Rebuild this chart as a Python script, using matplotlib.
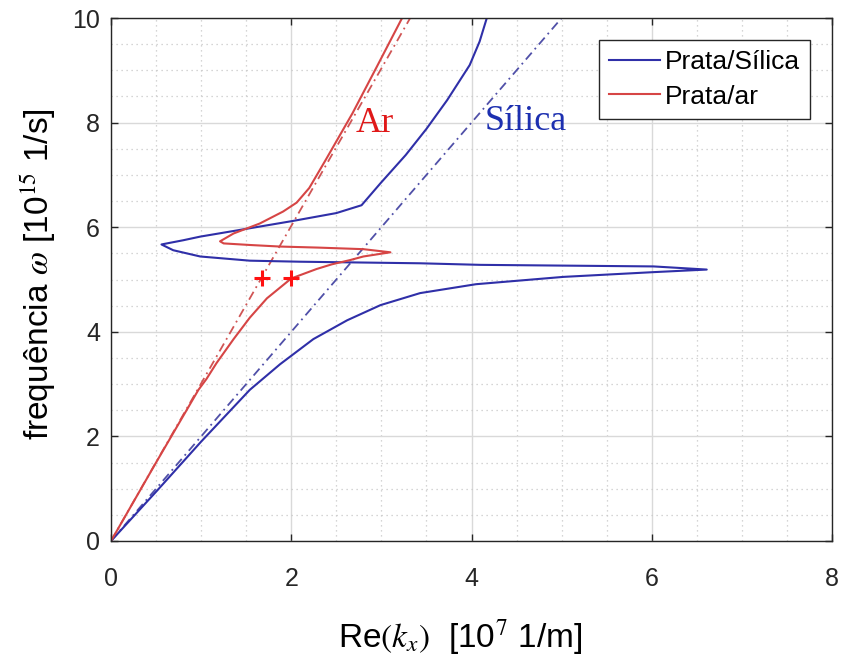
import matplotlib
matplotlib.use("Agg")
import matplotlib.pyplot as plt
from matplotlib.ticker import MultipleLocator

plt.rcParams["font.family"] = ["Liberation Sans", "DejaVu Sans"]
plt.rcParams["mathtext.fontset"] = "stix"

# Dispersion of the surface plasmon: Re(kx) [1e7 1/m] vs omega [1e15 1/s]
kx_silica = [0, 0.52, 1.00, 1.54, 1.876, 2.245, 2.62, 2.99, 3.43, 4.05, 5.02,
             6.01, 6.61, 6.02, 4.10, 3.43, 2.10, 1.54, 0.99, 0.69, 0.56, 0.80,
             0.99, 1.54, 2.02, 2.50, 2.78, 2.86, 2.99, 3.27, 3.50, 3.73, 3.98,
             4.09, 4.17]
w_silica = [0, 0.98, 1.90, 2.89, 3.38, 3.86, 4.22, 4.51, 4.74, 4.91, 5.05,
            5.14, 5.19, 5.25, 5.28, 5.31, 5.34, 5.36, 5.44, 5.56, 5.67, 5.75,
            5.82, 5.98, 6.12, 6.27, 6.42, 6.58, 6.84, 7.38, 7.88, 8.43, 9.10,
            9.55, 10.0]

kx_ar = [0, 0.50, 0.97, 1.06, 1.17, 1.36, 1.54, 1.73, 2.00, 2.28, 2.45, 2.65,
         2.80, 3.10, 2.80, 2.30, 1.876, 1.54, 1.25, 1.21, 1.36, 1.65, 1.91,
         2.06, 2.20, 2.38, 2.68, 2.95, 3.23]
w_ar = [0, 1.50, 2.89, 3.10, 3.40, 3.86, 4.27, 4.64, 5.02, 5.20, 5.29, 5.37,
        5.44, 5.52, 5.58, 5.61, 5.63, 5.66, 5.69, 5.73, 5.88, 6.07, 6.30,
        6.47, 6.75, 7.28, 8.18, 9.07, 10.0]

# Light lines in each dielectric
light_ar_kx = [0, 3.32]
light_ar_w = [0, 10]
light_silica_kx = [0, 5.0]
light_silica_w = [0, 10]

# Highlighted points
mark_kx = [1.67, 2.0]
mark_w = [5.03, 5.03]

blue = "#2f2fa8"
red = "#d64545"

fig = plt.figure(figsize=(8.42, 6.57), dpi=100)
ax = fig.add_axes([111 / 842, 116 / 657, 721 / 842, 523 / 657])

dashdot = (0, (5, 2.5, 1, 2.5))
ax.plot(light_silica_kx, light_silica_w, color="#5050a8", lw=1.3, linestyle=dashdot)
ax.plot(light_ar_kx, light_ar_w, color="#d05555", lw=1.3, linestyle=dashdot)
ax.plot(kx_silica, w_silica, color=blue, lw=1.5, label="Prata/Sílica")
ax.plot(kx_ar, w_ar, color=red, lw=1.5, label="Prata/ar")
ax.plot(mark_kx, mark_w, linestyle="none", marker="+", color="#ff1010",
        markersize=11, markeredgewidth=2.2)

ax.text(2.93, 7.99, "Ar", color="#e01818", family="Liberation Serif",
        fontsize=26, ha="center", va="center")
ax.text(4.15, 8.03, "Sílica", color="#1c2fb0", family="Liberation Serif",
        fontsize=26, ha="left", va="center")

ax.set_xlim(0, 8)
ax.set_ylim(0, 10)
ax.xaxis.set_major_locator(MultipleLocator(2))
ax.yaxis.set_major_locator(MultipleLocator(2))
ax.xaxis.set_minor_locator(MultipleLocator(0.5))
ax.yaxis.set_minor_locator(MultipleLocator(0.5))

ax.grid(which="major", color="#d9d9d9", lw=1.0, linestyle="-")
ax.grid(which="minor", color="#c8c8c8", lw=0.9, linestyle=(0, (1, 3)))
ax.set_axisbelow(True)

ax.tick_params(which="major", direction="in", length=5, width=1.0,
               top=True, right=True, labelsize=18, colors="#262626")
ax.tick_params(axis="x", which="major", pad=19)
ax.tick_params(axis="y", which="major", pad=8)
ax.tick_params(which="minor", length=0, top=True, right=True)
for s in ax.spines.values():
    s.set_color("#262626")
    s.set_linewidth(1.0)

ax.set_ylabel("frequência $\\omega$ [10$^{15}$ 1/s]", fontsize=24)
ax.yaxis.set_label_coords(-0.072, 0.51)
ax.set_xlabel("Re$(k_x)$  [10$^7$ 1/m]", fontsize=24)
ax.xaxis.set_label_coords(0.484, -0.146)

leg = ax.legend(loc="upper right", bbox_to_anchor=(0.9695, 0.958),
                borderaxespad=0, fontsize=19, handlelength=1.9,
                handletextpad=0.2, labelspacing=0.4, borderpad=0.38,
                fancybox=False, framealpha=1, edgecolor="#262626")
leg.get_frame().set_linewidth(1.0)

fig.savefig("out.png", dpi=100, facecolor="white")
